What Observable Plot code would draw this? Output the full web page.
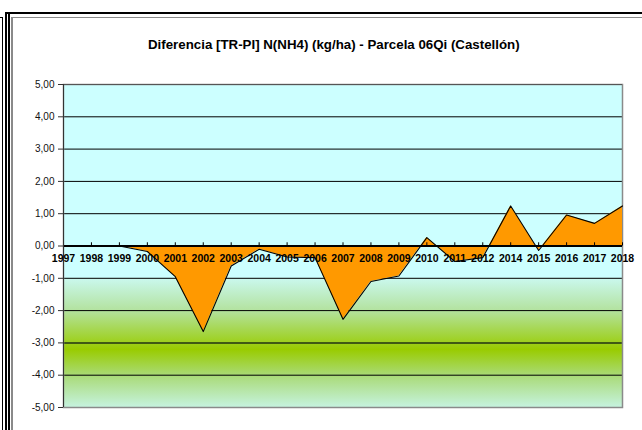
<!DOCTYPE html>
<html>
<head>
<meta charset="utf-8">
<script src="https://cdn.jsdelivr.net/npm/d3@7"></script>
<script src="https://cdn.jsdelivr.net/npm/@observablehq/plot@0.6"></script>
<style>
  html, body { margin: 0; padding: 0; background: #fff; }
  #wrap { position: relative; width: 642px; height: 430px; overflow: hidden; font-family: "Liberation Sans", Arial, sans-serif; }
  .ln { position: absolute; background: #000; }
  #box { position: absolute; left: 11px; top: 17px; width: 640px; height: 420px; border-left: 2px solid #8a8a8a; border-top: 1px solid #8a8a8a; }
  #title { position: absolute; left: 148px; top: 37px; white-space: nowrap; font-family: "Liberation Sans", Arial, sans-serif; font-weight: bold; font-size: 13.3px; line-height: 16px; color: #000; }
  #chart { position: absolute; left: 0; top: 0; }
</style>
</head>
<body>
<div id="wrap">
  <div class="ln" style="left:2px;top:17px;width:1px;height:420px"></div>
  <div class="ln" style="left:0;top:17px;width:3px;height:1px"></div>
  <div class="ln" style="left:5px;top:12px;width:2px;height:420px"></div>
  <div class="ln" style="left:8px;top:12px;width:2px;height:420px"></div>
  <div class="ln" style="left:5px;top:12px;width:640px;height:2px"></div>
  <div id="box"></div>
  <div id="title">Diferencia [TR-PI] N(NH4) (kg/ha) - Parcela 06Qi (Castellón)</div>
  <div id="chart"></div>
</div>
<script>
const years = ["1997","1998","1999","2000","2001","2002","2003","2004","2005","2006","2007","2008","2009","2010","2011","2012","2014","2015","2016","2017","2018"];
const values = [0, 0, 0, -0.17, -0.95, -2.65, -0.62, -0.10, -0.34, -0.36, -2.27, -1.10, -0.93, 0.26, -0.48, -0.36, 1.24, -0.14, 0.96, 0.70, 1.24];
const yTicks = [5, 4, 3, 2, 1, 0, -1, -2, -3, -4, -5];

const data = years.map((y, i) => ({year: y, value: values[i]}));
const fmt = d => d.toFixed(2).replace(".", ",");
const font = "Liberation Sans, Arial, sans-serif";

const chart = Plot.plot({
  width: 642,
  height: 430,
  marginLeft: 63,
  marginRight: 20,
  marginTop: 84,
  marginBottom: 23,
  style: {fontFamily: font, background: "transparent", overflow: "visible"},
  x: {type: "point", domain: years, padding: 0, round: false, axis: null},
  y: {domain: [-5, 5], axis: null},
  marks: [
    Plot.frame({fill: "url(#bggrad)", stroke: "none"}),
    Plot.ruleY(yTicks.filter(d => d !== 0 && d !== 5 && d !== -5), {
      y: d => d,
      stroke: d => d === -3 ? "#3f5a14" : "#000",
      strokeWidth: d => d === -3 ? 2 : 1
    }),
    Plot.frame({stroke: "#8a8a8a", strokeWidth: 1.5}),
    Plot.ruleY([5], {stroke: "#555", strokeWidth: 1}),
    Plot.areaY(data, {x: "year", y: "value", fill: "#FF9900", curve: "linear"}),
    Plot.lineY(data, {x: "year", y: "value", stroke: "#000", strokeWidth: 1.1, curve: "linear"}),
    Plot.ruleY([0], {stroke: "#000", strokeWidth: 2}),
    Plot.ruleX(years, {x: d => d, y1: 0, y2: 0.1, stroke: "#000", strokeWidth: 1}),
    Plot.ruleX([years[0]], {stroke: "#333", strokeWidth: 1}),
    Plot.axisY({ticks: yTicks, tickFormat: fmt, tickSize: 5, tickPadding: 4, fontSize: 10, color: "#111", anchor: "left", stroke: "#333", label: null}),
    Plot.text(years, {x: d => d, y: 0, dy: 13, text: d => d, fontWeight: "bold", fontSize: 10.5, fill: "#000"})
  ]
});

// gradient for plot background
const svg = d3.select(chart);
const defs = svg.insert("defs", ":first-child");
const g = defs.append("linearGradient").attr("id", "bggrad").attr("x1", 0).attr("x2", 0).attr("y1", 0).attr("y2", 1);
const stops = [[5, "#CCFFFF"], [-0.95, "#CCFFFF"], [-1.05, "#C9F7EA"], [-2, "#B3E29E"], [-3.2, "#99CC00"], [-4, "#A9DA76"], [-5, "#C6F3E0"]];
stops.forEach(([v, c]) => g.append("stop").attr("offset", ((5 - v) / 10 * 100) + "%").attr("stop-color", c));

document.getElementById("chart").appendChild(chart);
</script>
</body>
</html>
